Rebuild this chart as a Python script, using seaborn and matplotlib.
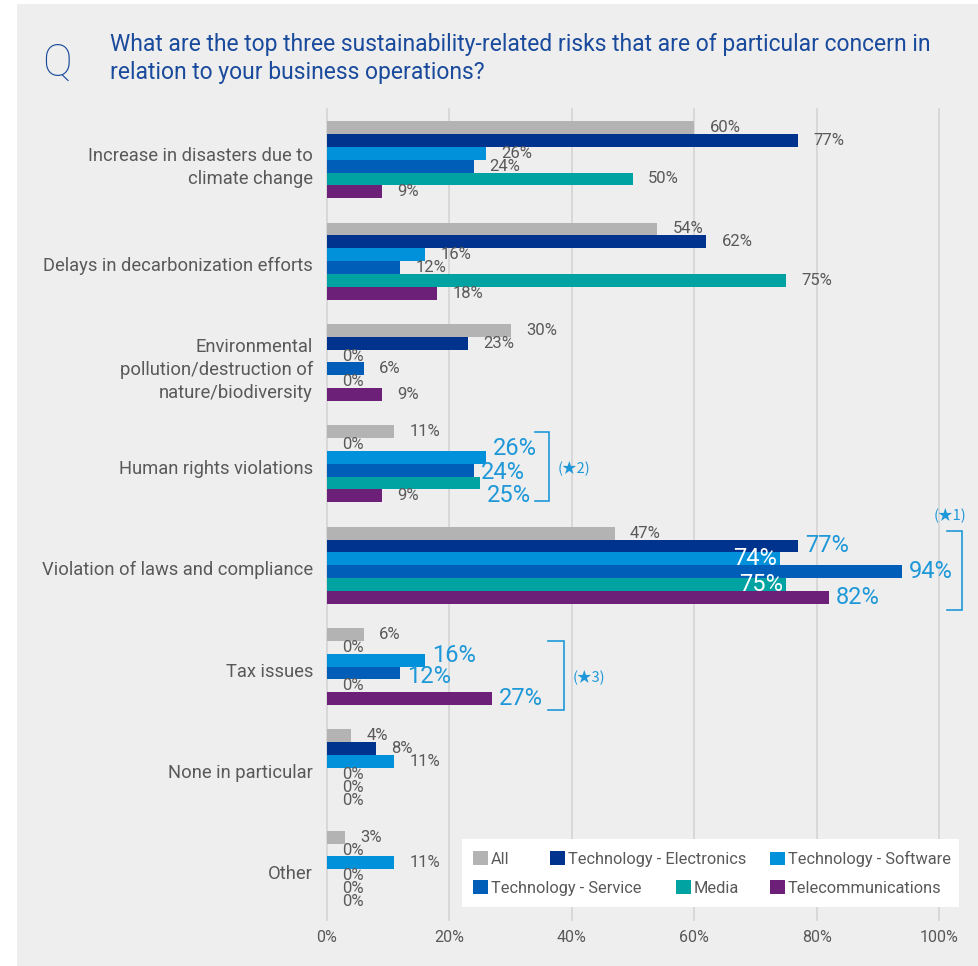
import matplotlib
matplotlib.use("Agg")
import matplotlib.pyplot as plt
from matplotlib.patches import Rectangle
from matplotlib.legend import Legend
from matplotlib.transforms import ScaledTranslation
import pandas as pd
import seaborn as sns

# ---- data -------------------------------------------------------------
risks = [
    "Increase in disasters due to\nclimate change",
    "Delays in decarbonization efforts",
    "Environmental\npollution/destruction of\nnature/biodiversity",
    "Human rights violations",
    "Violation of laws and compliance",
    "Tax issues",
    "None in particular",
    "Other",
]
segments = [
    "All",
    "Technology - Electronics",
    "Technology - Software",
    "Technology - Service",
    "Media",
    "Telecommunications",
]
all_resp = [60, 54, 30, 11, 47, 6, 4, 3]
electronics = [77, 62, 23, 0, 77, 0, 8, 0]
software = [26, 16, 0, 26, 74, 16, 11, 11]
service = [24, 12, 6, 24, 94, 12, 0, 0]
media = [50, 75, 0, 25, 75, 0, 0, 0]
telecom = [9, 18, 9, 9, 82, 27, 0, 0]

x_ticks = [0, 20, 40, 60, 80, 100]
x_tick_labels = ["0%", "20%", "40%", "60%", "80%", "100%"]

title = ("What are the top three sustainability-related risks that are of particular concern in\n"
         "relation to your business operations?")

# ---- styling ----------------------------------------------------------
W, H = 979, 966
colors = ["#b3b3b3", "#00338d", "#0091da", "#005eb8", "#00a3a1", "#6d2077"]
TEXT = "#595959"
ACCENT = "#1e98d8"
TITLE_BLUE = "#1a4a9c"
PANEL = "#eeeeee"
GRID = "#d8d8d8"

# labels called out in accent colour: (risk index, segment) -> placement
callouts = {
    (3, "Technology - Software"): "out", (3, "Technology - Service"): "out",
    (3, "Media"): "out",
    (4, "Technology - Electronics"): "out", (4, "Technology - Software"): "in",
    (4, "Technology - Service"): "out", (4, "Media"): "in",
    (4, "Telecommunications"): "out",
    (5, "Technology - Software"): "out", (5, "Technology - Service"): "out",
    (5, "Telecommunications"): "out",
}
# vertical nudges (pixels, downward) so stacked large labels do not collide
nudges = {
    (3, "Technology - Software"): -9, (3, "Technology - Service"): 2,
    (3, "Media"): 12,
    (5, "Technology - Software"): -5, (5, "Technology - Service"): 4,
}

plt.rcParams["font.family"] = ["Roboto", "DejaVu Sans"]

wide = pd.DataFrame({
    "risk": risks,
    segments[0]: all_resp,
    segments[1]: electronics,
    segments[2]: software,
    segments[3]: service,
    segments[4]: media,
    segments[5]: telecom,
})
df = wide.melt(id_vars="risk", var_name="segment", value_name="share")

fig = plt.figure(figsize=(W / 100, H / 100), dpi=100)
fig.patch.set_facecolor("white")
fig.add_artist(Rectangle((17 / W, 0), 1, 1 - 4 / H, transform=fig.transFigure,
                         facecolor=PANEL, edgecolor="none", zorder=-10))

ax = fig.add_axes([327 / W, 1 - 920 / H, (939 - 327) / W, (920 - 109) / H])
ax.patch.set_visible(False)

sns.barplot(data=df, x="share", y="risk", hue="segment", order=risks,
            hue_order=segments, palette=dict(zip(segments, colors)),
            orient="h", width=0.76, errorbar=None, saturation=1, ax=ax)

# axis cosmetics
ax.set_xlim(0, 100)
ax.set_xticks(x_ticks)
ax.set_xticklabels(x_tick_labels)
ax.set_xlabel("")
ax.set_ylabel("")
for s in ax.spines.values():
    s.set_visible(False)
ax.set_axisbelow(True)
ax.grid(axis="x", color=GRID, linewidth=1.4)
ax.grid(axis="y", visible=False)
for gl in ax.get_xgridlines():
    gl.set_clip_on(False)
ax.tick_params(axis="x", length=0, pad=7, labelsize=11.5, labelcolor=TEXT)
ax.tick_params(axis="y", length=0, pad=10, labelsize=13.2, labelcolor=TEXT)
shift_down = ScaledTranslation(0, -3 / 100, fig.dpi_scale_trans)
for t in ax.get_yticklabels():
    t.set_linespacing(1.38)
    t.set_transform(t.get_transform() + shift_down)

# value labels
for seg, container in zip(segments, ax.containers):
    for i, bar in enumerate(container):
        v = bar.get_width()
        yc = bar.get_y() + bar.get_height() / 2
        txt = f"{v:g}%"
        mode = callouts.get((i, seg))
        dy = -nudges.get((i, seg), 0) * 0.72
        if mode == "out":
            ax.annotate(txt, xy=(v, yc), xytext=(5, dy), textcoords="offset points",
                        ha="left", va="center", fontsize=17, color=ACCENT,
                        annotation_clip=False)
        elif mode == "in":
            ax.annotate(txt, xy=(v, yc), xytext=(-2, dy), textcoords="offset points",
                        ha="right", va="center", fontsize=17, color="white",
                        annotation_clip=False)
        else:
            ax.annotate(txt, xy=(v, yc), xytext=(11, dy), textcoords="offset points",
                        ha="left", va="center", fontsize=12, color=TEXT,
                        annotation_clip=False)

# brackets grouping the called-out values
brackets = [
    # x_tick, x_line, y_top, y_bottom, label, label_x, label_y, ha
    (34.0, 36.3, 2.69, 3.366, "(★2)", 37.7, 3.05, "left"),
    (101.3, 103.8, 3.666, 4.446, "(★1)", 101.8, 3.515, "center"),
    (36.1, 38.7, 4.749, 5.426, "(★3)", 40.2, 5.107, "left"),
]
for x0, x1, y0, y1, lab, lx, ly, ha in brackets:
    ax.plot([x0, x1, x1, x0], [y0, y0, y1, y1], color=ACCENT, linewidth=1.2,
            clip_on=False, solid_joinstyle="miter")
    ax.text(lx, ly, lab, ha=ha, va="center", fontsize=10.5, color=ACCENT,
            family=["Noto Sans CJK JP", "DejaVu Sans"], clip_on=False)

# keep the category axis fixed after the extra artists
ax.set_xlim(0, 100)
ax.set_ylim(len(risks) - 0.5, -0.5)

# legend: white panel with individually placed entries
old = ax.get_legend()
handles = list(old.legend_handles)
labels = [t.get_text() for t in old.get_texts()]
old.remove()

ax.add_patch(Rectangle((462 / W, 1 - 907 / H), (959 - 462) / W, (907 - 839) / H,
                       transform=fig.transFigure, facecolor="white",
                       edgecolor="none", zorder=4, clip_on=False))
slots = [(473, 859), (550, 859), (770, 859), (473, 888), (676, 888), (770, 888)]
for h, lab, (px, py) in zip(handles, labels, slots):
    leg = Legend(ax, [h], [lab], loc="center left",
                 bbox_to_anchor=(px / W, 1 - py / H), bbox_transform=fig.transFigure,
                 frameon=False, borderpad=0, borderaxespad=0,
                 handlelength=0.9, handleheight=0.9, handletextpad=0.2,
                 fontsize=11.8, labelcolor=TEXT)
    leg.set_zorder(5)
    ax.add_artist(leg)

# question header
fig.text(57 / W, 1 - 63 / H, "Q", ha="center", va="center", fontsize=32,
         color=TITLE_BLUE, fontweight="light")
fig.text(110 / W, 1 - 58.5 / H, title, ha="left", va="center", fontsize=16.5,
         color=TITLE_BLUE, linespacing=1.3)

fig.savefig("out.png", dpi=100, facecolor=fig.get_facecolor())
